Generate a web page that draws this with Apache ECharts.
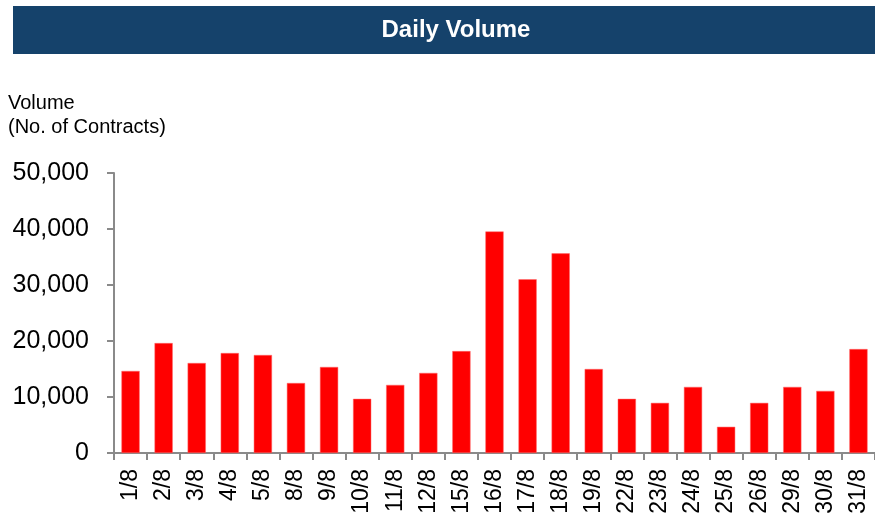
<!DOCTYPE html>
<html>
<head>
<meta charset="utf-8">
<title>Daily Volume</title>
<script src="https://cdn.jsdelivr.net/npm/echarts@6/dist/echarts.min.js"></script>
<style>
  html, body { margin: 0; padding: 0; background: #fff; }
  #chart { width: 875px; height: 520px; }
</style>
</head>
<body>
<div id="chart"></div>
<script>
// trading days in August
const categories = ['1/8', '2/8', '3/8', '4/8', '5/8', '8/8', '9/8', '10/8', '11/8', '12/8', '15/8', '16/8',
  '17/8', '18/8', '19/8', '22/8', '23/8', '24/8', '25/8', '26/8', '29/8', '30/8', '31/8'];
// daily volume (no. of contracts)
const volume = [14650, 19630, 16070, 17850, 17500, 12500, 15360, 9670, 12160, 14300, 18200, 39560,
  31020, 35650, 15000, 9670, 8950, 11800, 4680, 8950, 11800, 11090, 18560];
const yTicks = { min: 0, max: 50000, interval: 10000 };

const FONT = '"Liberation Sans", Arial, sans-serif';
const AXIS_GREY = '#8a8a8a';

const chart = echarts.init(document.getElementById('chart'));

const option = {
  animation: false,
  backgroundColor: '#fff',
  textStyle: { fontFamily: FONT },
  graphic: [
    // title banner
    {
      type: 'rect',
      shape: { x: 13, y: 6, width: 880, height: 48 },
      style: { fill: '#15426B' },
      z: 1
    },
    {
      type: 'text',
      x: 456,
      y: 30,
      style: {
        text: 'Daily Volume',
        fill: '#fff',
        font: 'bold 24px ' + FONT,
        textAlign: 'center',
        textVerticalAlign: 'middle'
      },
      z: 2
    },
    // y axis caption
    {
      type: 'text',
      x: 8,
      y: 91,
      style: {
        text: 'Volume\n(No. of Contracts)',
        fill: '#000',
        font: '20px ' + FONT,
        lineHeight: 24,
        textAlign: 'left',
        textVerticalAlign: 'top'
      }
    }
  ],
  grid: {
    left: 114,
    top: 173,
    width: 765,
    bottom: 67,
    containLabel: false
  },
  xAxis: {
    type: 'category',
    data: categories,
    axisLine: { lineStyle: { color: AXIS_GREY, width: 2 } },
    axisTick: { show: true, length: 7, alignWithLabel: false, lineStyle: { color: AXIS_GREY, width: 2 } },
    axisLabel: {
      rotate: 90,
      interval: 0,
      margin: 16,
      color: '#000',
      fontSize: 23,
      fontFamily: FONT
    }
  },
  yAxis: {
    type: 'value',
    min: yTicks.min,
    max: yTicks.max,
    interval: yTicks.interval,
    splitLine: { show: false },
    axisLine: { show: true, lineStyle: { color: AXIS_GREY, width: 2 } },
    axisTick: { show: true, length: 7, lineStyle: { color: AXIS_GREY, width: 2 } },
    axisLabel: {
      margin: 25,
      color: '#000',
      fontSize: 25,
      fontFamily: FONT,
      formatter: (v) => v.toLocaleString('en-US')
    }
  },
  series: [
    {
      name: 'Volume',
      type: 'bar',
      data: volume,
      barWidth: '55%',
      itemStyle: { color: '#ff0000', borderColor: '#ff6b6b', borderWidth: 0.5 }
    }
  ]
};

chart.setOption(option);
</script>
</body>
</html>
